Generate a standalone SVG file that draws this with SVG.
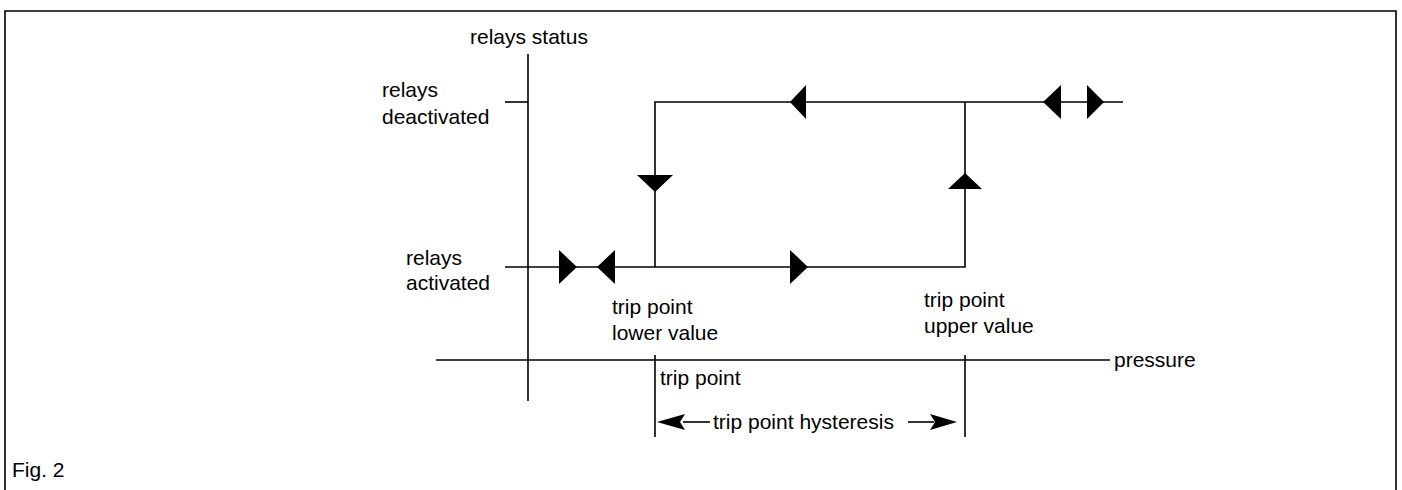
<svg xmlns="http://www.w3.org/2000/svg" width="1402" height="490" viewBox="0 0 1402 490">
<style>
.ln{stroke:#000;stroke-width:1.6;fill:none}
.ah{fill:#000;stroke:none}
text{font-family:"Liberation Sans",Arial,sans-serif;font-size:21px;fill:#000}
</style>
<rect width="1402" height="490" fill="#fff"/>
<path class="ln" d="M5,490 V11 H1396 V490"/>
<g id="connectors">
<line class="ln" x1="528" y1="54" x2="528" y2="401"/>
<line class="ln" x1="505" y1="102" x2="528" y2="102"/>
<line class="ln" x1="436" y1="360" x2="1110" y2="360"/>
<polyline class="ln" points="505,267 965,267 965,102"/>
<polyline class="ln" points="655,267 655,102 1123,102"/>
<line class="ln" x1="655" y1="355" x2="655" y2="437"/>
<line class="ln" x1="965" y1="355" x2="965" y2="437"/>
<line class="ln" x1="683" y1="422" x2="710" y2="422"/>
<line class="ln" x1="908" y1="422" x2="934" y2="422"/>
<polygon class="ah" points="559,250 577,267 559,284"/>
<polygon class="ah" points="615,250 597,267 615,284"/>
<polygon class="ah" points="790,250 808,267 790,284"/>
<polygon class="ah" points="806,85 790,102 806,119"/>
<polygon class="ah" points="1061,85 1043,102 1061,119"/>
<polygon class="ah" points="1087,85 1104,102 1087,119"/>
<polygon class="ah" points="637,175 673,175 655,192"/>
<polygon class="ah" points="948,189 982,189 965,173"/>
<polygon class="ah" points="657,422 685,414 680,422 685,430"/>
<polygon class="ah" points="957,422 930,414 935,422 930,430"/>
</g>
<g id="label-relays-status"><text x="470" y="44">relays status</text></g>
<g id="label-deactivated"><text x="382" y="97">relays</text><text x="382" y="124">deactivated</text></g>
<g id="label-activated"><text x="406" y="265">relays</text><text x="406" y="290">activated</text></g>
<g id="label-lower"><text x="612" y="314">trip point</text><text x="612" y="340">lower value</text></g>
<g id="label-upper"><text x="924" y="307">trip point</text><text x="924" y="333">upper value</text></g>
<g id="label-pressure"><text x="1114" y="367">pressure</text></g>
<g id="label-trip-point"><text x="660" y="385">trip point</text></g>
<g id="label-hysteresis"><text x="713" y="429">trip point hysteresis</text></g>
<g id="label-fig"><text x="12" y="477">Fig. 2</text></g>
</svg>
